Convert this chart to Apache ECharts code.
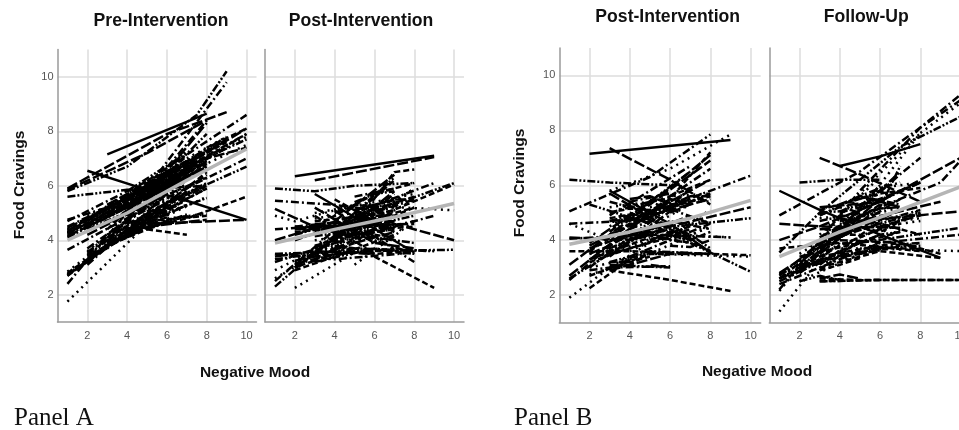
<!DOCTYPE html>
<html><head><meta charset="utf-8">
<style>html,body{margin:0;padding:0;background:#fff}#c{width:959px;height:430px}</style>
<script src="https://cdn.jsdelivr.net/npm/echarts@6/dist/echarts.min.js"></script>
</head><body><div id="c"></div>
<script>
// Tick values
const xTicks = [2,4,6,8,10];
const yTicks = [2,4,6,8,10];
// Each subject's fitted line: x0,y0,x1,y1[,x2,y2...]
const preSolid = [[3,7.15,8,8.65],[2,6.55,5,5.85,7,5.45,10,4.75]];
const preLines = [
[1,5.9,6,7.9,9,8.7],[1,5.8,4,6.7,7.5,8.6,9,10.2],[1,2.4,5,5.9,9,9.8],[1,1.75,5,4.6],[5,4.4,7,4.2],
[1,5.85,5,7.2,8,8.4],[1,5.6,4,5.85,8,6],[1,3.65,5,5.2,10,7],[1,4.3,8,7],[1,4.25,8,6.9],
[1,4.35,7,6.8],[1,4.2,8,6.7],[1,4.7,7,6.9],[2,4.9,8,7],[1,4.3,9,7.7],
[2,4.6,10,8.1],[2,4.7,9,7.8],[3,5.2,10,8.6],[3,5,10,7.8],[2,4.8,8,7.1],
[1,4.15,8,6.6],[2,4.5,7,6.4],[3,4.9,9,7.4],[1,4.4,10,7.5],[4,5.6,9,7.7],
[3,5.3,8,7.3],[2,4.4,8,6.3],[1,2.7,4,4.4,8,6.4],[1,2.75,4,4.2,7,4.9],[2,3.3,5,4.7,8,4.9],
[2,3.4,5,4.6,10,4.75],[2,3.2,6,5.4,10,6.7],[2,3.5,7,6.4],[2,3.6,6,5.9],[3,3.8,7,5.5],
[3,3.9,6,5.2],[3,4,8,5.9],[2,3.1,6,5.7],[3,3.7,7,6.1],[4,4.2,8,6.5],
[4,4.1,7,5.8],[4,4.4,6,5.1],[3,4.1,8,6],[5,4.6,8,5.95],[4,4.3,7,4.8,10,5.6],
[5,4.5,8,4.75],[5,5,8,6.1],[5,5.4,7,6.5],[5,5.2,8,7],[3,4.4,7,7.1],
[3,3.9,8,8.3],[4,5,8,7.9],[5,5.8,8,8.4],[4,5.2,7,7.3],[4,5.3,7,6.3],
[4,4.7,6,6.2],[4,5.8,7,7.2],[2,3.7,6,5.8],[3,4.2,7,6.2],[3,4.6,7,6.6],
[2,4.2,6,5.7],[4,4.9,8,6.8],[5,5.5,8,7.1],[3,5.2,6,6.3],[6,6.4,9,7.6],
[7,6.8,10,7.4],[6,6.2,10,7.9],[1,4.75,3,5.2,6,6.2],[2,3.3,4,4.35,6,4.8,8,4.95],[1,2.8,3,3.8,6,4.7]
];
const preBands = [
[1,4.45,4,5.55,7,6.65],[1,4.1,4,5.2,8,6.7],[1,4.5,3,5.2,6,6.3],[2,4.75,5,5.85,8,7.05],[2,4.55,5,5.6,8,6.9],
[3,5.3,6,6.4],[3,4.95,6,6],[4,5.45,7,6.6],[4,5.3,7,6.4],[4,5.15,7,6.3],
[5,5.7,8,6.85],[5,5.55,8,6.75],[5,5.95,7,6.85],[6,6.2,8,7.05],[6,6.05,8,6.6],
[1,4.25,3,5,5,5.7],[2,4.5,4,5.3,6,6.1],[3,5.15,5,5.8,7,6.55],[1,2.85,2,3.4,4,4.45],[1,2.7,3,3.75,5,4.5],
[2,3.25,4,4.2,6,4.85],[2,3.45,4,4.55,6,5.2],[2,3.55,4,4.75,6,5.5],[3,3.95,5,4.75,7,5.3],[3,4.1,5,4.95,7,5.7],
[3,3.8,5,4.45,7,4.95],[4,4.3,6,5,8,5.55],[4,4.6,6,5.35,8,6],[4,4.15,6,4.75,8,5],[5,4.85,7,5.75],
[5,4.6,7,5.3],[5,4.4,7,4.9],[6,5.15,8,5.9],[6,4.9,8,5.6],[2,3.3,3,3.85,5,4.65],
[1,2.75,2,3.2,3,3.85],[7,6.7,10,7.7],[8,7.1,10,7.9],[7,7,9,7.8],[8,7.4,10,8.1]
];
const postASolid = [[2,6.35,9,7.1],[3,5.7,5,4.85,8,3.55]];
const postALines = [
[3,6.2,9,7.05],[1,5.9,3,5.8,5,6,8,6.1],[1,5.45,4,5.3,6,5.1],[1,4.9,2,4.7,5,5.3,10,5.1],[6,3.4,9,2.25],
[1,5.15,3,4.5,8,4.6],[1,3.5,5,3.6,10,3.65],[1,4.4,5,4.6,8,3.2],[2,2.25,5,3.55],[4,3.6,7,6.5,8,6.6],
[1,4,5,4.9,8,5.6],[1,2.3,5,4.8,10,6.1],[1,2.5,5,5,9,6.1],[1,2.9,4,4,8,5.9],[2,3,5,4.5,10,6.05],
[1,3.4,3,3.6,6,3.5],[1,3.3,5,3.7,9,3.6],[1,3.5,4,3.3,8,3.55],[1,2.6,4,3.9,8,5.5],[3,4.5,6,5.7,8,6.1],
[2,4.4,7,4.6,10,4],[2,4.5,5,4.4,8,4.9],[3,4.5,7,4.5,9,4.9],[3,4.4,6,4.4,8,4.7],[2,4.3,6,4.6,8,5.2],
[3,4.6,7,4.7],[2,4.5,5,4.2,8,3.9],[2,3.1,6,5,8,5.5],[2,3.2,7,4.7],[3,3.3,6,4.4,8,4.5],
[3,3.5,7,5.8],[3,3.7,7,5.4],[4,4,7,5.7],[4,3.9,8,5.9],[4,4.3,7,6.2],
[4,4.7,7,6.4],[5,5,7,6.3],[5,4.2,7,5.1],[3,5,6,5.4,8,5.7],[4,5.5,7,4.3],
[3,5.2,6,3.9,8,3.7],[4,5.1,6,4,8,3.5],[3,4.9,6,3.5],[5,3.1,8,4.7],[2,2.9,4,3.4,7,4.2],
[2,3,4,3.5,6,3.6],[3,3.2,6,3.7,8,3.5],[1,3.2,4,3.9,7,4.5],[3,4,7,4.4],[4,4.6,7,5.1],
[4,4.2,6,4.8],[5,4.8,7,5.5],[3,3.8,5,4.2,7,4.4],[3,4.2,6,5.2],[4,3.5,6,4.4],
[5,3.9,7,4.3],[2,4,6,5],[5,5.6,7,5.9],[3,4.8,7,5.2],[4,4.4,8,5.2]
];
const postABands = [
[2,4.4,3,4.55,4,4.5,5,4.6],[2,4.2,3,4.4,4,4.35,5,4.5,6,4.6],[2,4.5,4,4.65,6,4.75],[3,4.3,4,4.55,5,4.4,6,4.8],[3,4.7,5,4.85,7,5.1],
[4,4.2,5,4.6,6,4.5,7,4.7],[3,4.15,4,4.25,6,4.3],[2,3.1,3,3.3,4,3.5],[2,3,3,3.5,4,3.4,5,3.65],[3,3.4,5,3.55,6,3.5,8,3.6],
[2,3.25,3,3.4,5,3.9],[3,3.6,5,4.2,7,4.6],[3,3.75,4,4.1,6,4.25],[4,3.7,5,4,6,4.1],[5,4.3,6,4.9,7,4.9],
[5,5.1,6,5.3,7,5.5,8,5.5],[5,5.4,6,5.7,7,5.8],[4,5,5,5.3,6,5.2],[6,4.4,7,4.5,7.5,4.3],[6,4.2,7,4.1],
[4,3.8,6,3.6,7,3.7],[5,4.9,6,4.6,7,4.9],[3,3.5,4,3.7,5,3.5]
];
const postBSolid = [[2,7.15,9,7.65],[3,5.8,6,4.6,8,3.55]];
const postBLines = [
[3,7.35,6,6.2,8,5.3],[1,6.2,3,6.1,6,6],[1,5.05,5,6.3,8,7.85],[3,5.8,6,6.6,9,7.85],[3,2.9,6,2.55,9,2.15],
[1,4.1,4,4,6,4.5,10,5.2],[2,5.3,5,4.6,10,2.85],[1,4.6,4,4.7,10,6.35],[1,1.9,3,3,5,3.9],[2,2.25,4,3.3],
[1,3.1,5,5.3,8,6.9],[3,3.1,6,3,5,3.1],[1,4.05,5,4.2,9,4.1],[1,4.6,3,4,6,4.2,9,4.1],[1,3.6,4,3.6,10,3.45],
[1,2.7,5,5,8,6.2],[1,2.6,5,4.4,10,4.8],[1,2.55,6,5.6,8,6.6],[2,3,5,3.5,8,4.5],[2,2.7,5,3.5,6,3.5],
[3,3.4,7,5.6,8,5.6],[2,3,6,5.2,7,5.9],[3,4.9,7,6.7],[3,5.2,6,5.5,8,5.4],[2,3.6,6,5.5,8,7.2],
[2,3.9,6,5.9,8,7.1],[3,4.3,7,6.5],[3,5,5,5.4,8,4.6],[4,5.2,6,5.6,8,5.7],[3,4.8,6,5.2,8,5.6],
[2,3.8,5,4.9,7,5.3],[3,3.7,6,4.7,8,4.4],[4,3.4,8,4.6],[3,3.6,7,4.3],[4,4.3,7,3.9,8,3.6],
[3,5.7,6,4.4,8,3.6],[4,5,7,4.2,8,3.7],[4,4.6,6,4,7,3.9],[2,3.5,6,4.2,8,5.1],[2,3.2,4,3.7,7,4.4],
[3,2.9,6,3.5,8,3.5],[3,3.2,5,3.6,8,3.5],[3,3,6,3.05],[4,3.3,5,3.5,10,3.4],[3,4.2,6,5.4],
[4,4.5,7,5.5],[5,4.9,7,5.6],[4,4.7,6,5.3],[5,4.5,7,5.3],[6,5.6,8,6.2],
[4,4,6,4.4],[5,4,7,4.5],[3,4,5,4.3],[4,3.6,7,4.6],[3,3.5,6,4.1],
[2,4,5,4.4],[3,4.7,5,5.1],[4,5.4,6,5.7],[5,5.2,7,5.5],[2,3.3,5,4.1]
];
const postBBands = [
[2,3.5,3,3.8,4,4.2,5,4.3],[2,3.3,3,3.6,4,3.95,5,4.2],[2,3.7,4,4.2,6,4.6],[3,4.5,4,4.9,5,4.8,6,5.2],[3,5,4,5.15,5,5.1,6,5.4],
[3,4.7,4,4.75,5,5.05,6,5.25],[3,5.4,4,5.2,5,5.3],[4,4.4,5,4.7,6,4.6,7,4.9],[5,4.2,6,4.4,7,4.2,8,4.5],[5,4,6,4.3,7,4,8,4.3],
[6,5,7,5.3,8,5.5],[6,5.3,7,5.4,8,5.7],[2,2.9,3,3,4,3.3],[2,2.75,3,2.95,4,3.4],[3,3.2,4,3.2,5,3.4],
[3,3,4,3.1,5,3.55],[4,3.35,5,3.55,6,3.5],[6,3.8,7,3.75,8,4],[6,4.1,7,4.6,8,4.7],[5,5.45,6,5.5,7,5.3],
[4,5.5,5,5.6,6,5.3]
];
const followSolid = [[4,6.7,6,7.05,8,7.5],[1,5.8,3,5.1,6,4.2,9,3.35]];
const followLines = [
[3,7,5,6.4,8,5.4],[2,6.1,4,6.2,6,6.2],[1,4.9,5,6.5,8,8.1,10,9.3],[1,1.4,5,5.1,8,7.9,10,9],[3,2.6,5,2.55,10,2.55],
[1,4.6,3,4.5,7,4.45],[1,3.55,3,5,7,7.4,10,8.5],[1,2.2,5,5.8,8,8.1,10,9.1],[1,2.15,5,5.7,8,7.9],[3,2.5,6,2.55],
[1,4,3,4.5,6,5.4,10,7],[3,2.5,6,2.55,10,2.55],[1,2.6,5,4.9,9,6.1,10,6.9],[5,3.7,10,3.6],[1,3.7,4,3.9,8,3.6],
[1,2.8,5,4.7,10,5.05],[1,2.5,5,3.9,10,4.45],[1,2.4,6,3.9,10,4.2],[2,2.5,5,3.5,8,3.9],[3,3,6,3.6,9,3.35],
[2,3,6,5.5,8,6.1],[1,2.7,5,5.1,8,6.1],[2,2.8,5,5.1,7,6.5],[2,3.2,6,5.9,8,6.1],[1,2.6,4,3.8,8,5],
[2,2.9,5,4.7,9,5.4],[3,3.5,6,5.2,7,6.7],[3,3.8,7,6.4,8,7],[3,4.2,6,6.3],[3,5.1,6,5.7,8,5.9],
[3,5.2,6,5.4,7,5.2],[3,4.9,5,5.6,7,5.3],[4,5.3,6,5.9,7,6.1],[3,4.8,6,5,7,5.2],[4,4.8,6,4.6,8,4.2],
[3,4.4,6,4.5,8,4.9],[3,3.9,6,4.6,8,5],[3,3.1,6,4.7,8,5.1],[3,3.5,7,4.7,8,4.8],[3,3.4,6,3.8,7,3.9],
[2,3.1,5,3.5,7,3.8],[3,3.3,6,3.7,8,3.8],[4,4,7,3.9,8,3.7],[4,3.3,7,4.7],[3,3.9,5,4.4,7,5.1],
[4,4.3,6,5.3],[4,4.7,6,5],[4,5,6,5.4],[5,4.1,7,4.9],[2,3.4,5,3.9,7,4.3],
[5,4.6,7,5.5],[3,4.7,5,5],[4,3.6,6,4.2],[2,3.5,4,4.4],[3,2.9,5,4],
[4,4.1,6,4.8],[5,5.2,6,6],[3,3.7,5,4.6],[6,4.4,8,5.1],[5,3.5,7,4.4]
];
const followBands = [
[1,2.6,2,2.9,3,3.3],[1,2.75,2,3.1,3,3.5],[2,2.8,3,3.3,4,3.9],[2,3.3,3,3.7,4,4],[3,3.6,4,4.2,5,4.2],
[3,4.1,4,4.5,5,4.9],[3,5,4,5.05,5,5.3,6,5.5],[3,4.9,4,5.2,5,5],[4,4.6,5,4.5,6,4.7],[4,4.1,5,4.5,6,4.3,7,4.6],
[5,4.9,6,5.15,7,5.2],[5,3.9,6,4.2,7,4.3],[4,3.5,5,3.5,6,3.8],[3,3.15,4,3.3,5,3.4],[3,2.9,4,3.1,5,3.35],
[2,3,3,3.15,4,3.6],[5,5.5,6,5.8,6.5,5.6],[6,3.7,7,3.85,8,3.9],[6,4.5,7,4.6,8,4.7],[7,3.7,8,3.7,9,3.5],
[3,2.6,4,2.75,5,2.6],[2,2.5,3,2.7,4,2.55]
];
// Group mean lines (grey)
const preMean = [1,4,4,5,7,6.2,10,7.35];
const postAMean = [1,3.9,4,4.4,7,4.85,10,5.35];
const postBMean = [1,3.85,4,4.3,7,4.8,10,5.45];
const followMean = [1,3.4,4,4.3,7,5.1,10,5.95];

const dashCycle = [[11,3],[8,2,2,2,2,2],[8,3,2,3],[2,4.5],[6,3]];
const pairs = a => { const o=[]; for(let i=0;i<a.length;i+=2) o.push([a[i],a[i+1]]); return o; };
const panels = [
  {solid:preSolid,lines:preLines.concat(preBands),mean:preMean,box:[57.5,49.5,199,272.5],labels:true},
  {solid:postASolid,lines:postALines.concat(postABands),mean:postAMean,box:[265,49.5,199,272.5],labels:false},
  {solid:postBSolid,lines:postBLines.concat(postBBands),mean:postBMean,box:[559.3,48,201.4,274.5],labels:true},
  {solid:followSolid,lines:followLines.concat(followBands),mean:followMean,box:[769.3,48,201.4,274.5],labels:false}
];
const grid=[],xAxis=[],yAxis=[],series=[];
const axisGrey='#9a9a9a', gridGrey='#dcdcdc', labelGrey='#555';
panels.forEach((p,i)=>{
  grid.push({left:p.box[0],top:p.box[1],width:p.box[2],height:p.box[3],outerBoundsMode:'none'});
  xAxis.push({type:'value',gridIndex:i,min:0.5,max:10.5,
    axisLine:{show:true,lineStyle:{color:axisGrey,width:1.5}},axisTick:{show:false,customValues:xTicks},
    axisLabel:{customValues:xTicks,color:labelGrey,fontFamily:'Liberation Sans',fontSize:11,margin:8,showMinLabel:true,showMaxLabel:true},
    splitLine:{show:true,lineStyle:{color:gridGrey,width:1.5}}});
  yAxis.push({type:'value',gridIndex:i,min:1,max:11,
    axisLine:{show:true,onZero:false,lineStyle:{color:axisGrey,width:1.5}},axisTick:{show:false,customValues:yTicks},
    axisLabel:{show:p.labels,customValues:yTicks,color:labelGrey,fontFamily:'Liberation Sans',fontSize:11,margin:4},
    splitLine:{show:true,lineStyle:{color:gridGrey,width:1.5}}});
  const add=(a,type,color,width)=>series.push({type:'line',xAxisIndex:i,yAxisIndex:i,data:pairs(a),showSymbol:false,silent:true,
    lineStyle:{color,width,type,cap:'butt'},z:color==='#000'?2:3});
  p.solid.forEach(a=>add(a,'solid','#000',2.4));
  p.lines.forEach((a,k)=>add(a,dashCycle[k%dashCycle.length],'#000',2.5));
  add(p.mean,'solid','#b5b5b5',3.5);
});
const txt=(x,y,s,o={})=>({type:'text',x,y,rotation:o.rot||0,z:10,style:{text:s,fill:o.fill||'#111',align:o.align||'center',verticalAlign:'middle',
  font:o.font||'bold 17.6px "Liberation Sans"'}});
const serif='25px "Liberation Serif"';
const small='bold 15.5px "Liberation Sans"';
const chart=echarts.init(document.getElementById('c'),null,{renderer:'canvas'});
chart.setOption({animation:false,backgroundColor:'#fff',grid,xAxis,yAxis,series,
 graphic:[
  txt(161,21,'Pre-Intervention'),txt(361,21,'Post-Intervention'),
  txt(667.7,17,'Post-Intervention'),txt(866.3,17,'Follow-Up'),
  txt(255,373,'Negative Mood',{font:small}),txt(757,372,'Negative Mood',{font:small}),
  txt(19.5,185,'Food Cravings',{rot:Math.PI/2,font:small}),txt(520,183,'Food Cravings',{rot:Math.PI/2,font:small}),
  txt(14,418,'Panel A',{align:'left',font:serif}),txt(514,418,'Panel B',{align:'left',font:serif})
 ]});
</script></body></html>
